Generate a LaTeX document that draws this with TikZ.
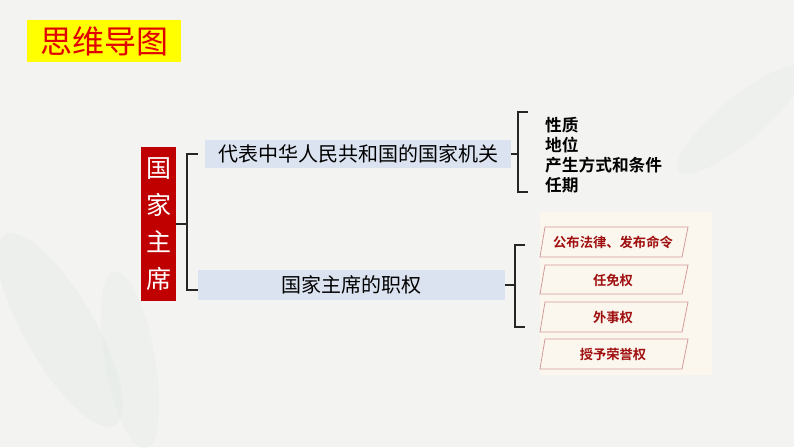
\documentclass[tikz,border=0pt]{standalone}
\usepackage{fontspec}
\newfontfamily\cjk{Noto Sans CJK SC}
\newfontfamily\cjkb{Noto Sans CJK SC Bold}
\definecolor{bg}{HTML}{F3F3F1}
\definecolor{leaf}{HTML}{E3EAE5}
\definecolor{titleY}{HTML}{FFFF00}
\definecolor{titleR}{HTML}{E00000}
\definecolor{darkred}{HTML}{C00000}
\definecolor{lightblue}{HTML}{DCE3F0}
\definecolor{cream}{HTML}{FBF7EE}
\definecolor{pinkline}{HTML}{D49A9A}
\definecolor{itemred}{HTML}{A01010}
\begin{document}
\begin{tikzpicture}[x=1pt,y=-1pt,
  bracket/.style={draw=black!85,line width=1.2pt},
  bluebox/.style={fill=lightblue,draw=none,inner sep=0pt},
  para/.style={draw=pinkline,line width=0.8pt,fill=cream},
  itemtxt/.style={font=\cjkb\fontsize{13.3}{15}\selectfont,text=itemred},
  toptxt/.style={font=\cjkb\fontsize{16.7}{20}\selectfont,anchor=west,inner sep=0pt}]
\useasboundingbox (0,0) rectangle (794,447);
\fill[bg] (0,0) rectangle (794,447);
% faint leaves
\fill[leaf,opacity=0.35,rotate around={-60:(60,330)}] (60,330) ellipse (110 and 35);
\fill[leaf,opacity=0.3,rotate around={-80:(130,360)}] (130,360) ellipse (90 and 25);
\fill[leaf,opacity=0.25,rotate around={40:(740,120)}] (740,120) ellipse (80 and 22);
% title
\node[fill=titleY,minimum width=154pt,minimum height=42pt,inner sep=0pt,
  font=\cjk\fontsize{32}{33}\selectfont,text=titleR] (title) at (104,41) {思维导图};
% root
\node[fill=darkred,minimum width=35pt,minimum height=154pt,inner sep=0pt,text=white,
  align=center,font=\cjk\fontsize{25}{37}\selectfont] (root) at (158.5,224) {国\\家\\主\\席};
% branch boxes
\node[bluebox,minimum width=306pt,minimum height=28pt,font=\cjk\fontsize{20}{22}\selectfont] (b1) at (358,154) {代表中华人民共和国的国家机关};
\node[bluebox,minimum width=307pt,minimum height=30pt,font=\cjk\fontsize{20}{22}\selectfont] (b2) at (351.5,285) {国家主席的职权};
% bracket root
\coordinate (rj) at (187,224);
\draw[bracket] (root.east) -- (rj);
\draw[bracket] (198,154) -| (187,290) -- (198,290);
% bracket b1
\draw[bracket] (b1.east) -- (518,154);
\draw[bracket] (528,112) -| (518,192) -- (528,192);
\node[toptxt] (t1) at (545,125) {性质};
\node[toptxt] (t2) at (545,145) {地位};
\node[toptxt] (t3) at (545,165) {产生方式和条件};
\node[toptxt] (t4) at (545,185) {任期};
% bracket b2
\draw[bracket] (b2.east) -- (515,285);
\draw[bracket] (525,245) -| (515,327) -- (525,327);
% panel
\fill[cream] (540,212) rectangle (712,375);
\draw[para] (545,227) -- (688,227) -- (682,257) -- (540,257) -- cycle;
\draw[para] (545,265) -- (688,265) -- (682,294) -- (540,294) -- cycle;
\draw[para] (545,302) -- (688,302) -- (682,332) -- (540,332) -- cycle;
\draw[para] (545,339) -- (688,339) -- (682,369) -- (540,369) -- cycle;
\node[itemtxt] (p1) at (613,242) {公布法律、发布命令};
\node[itemtxt] (p2) at (613,280) {任免权};
\node[itemtxt] (p3) at (613,317) {外事权};
\node[itemtxt] (p4) at (613,354) {授予荣誉权};
\end{tikzpicture}
\end{document}
